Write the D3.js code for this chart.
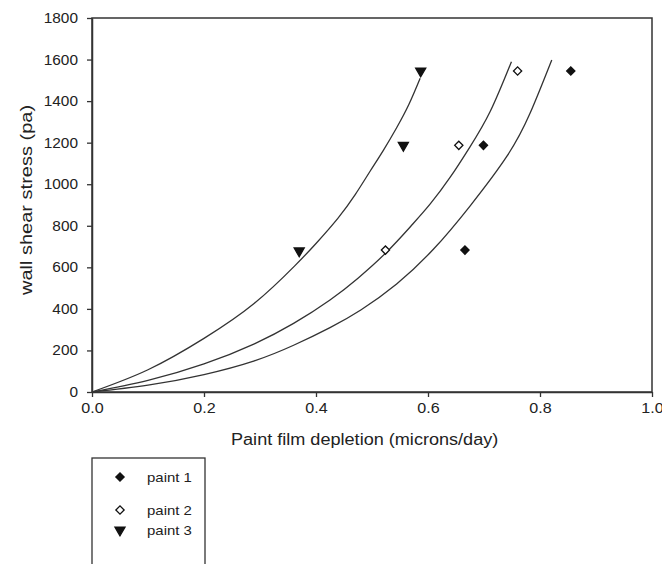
<!DOCTYPE html>
<html>
<head>
  <meta charset="utf-8">
  <script src="https://cdn.jsdelivr.net/npm/d3@7"></script>
  <style>
    body { margin: 0; background: #fff; }
    text { font-family: "Liberation Sans", Arial, sans-serif; fill: #222; }
  </style>
</head>
<body>
<svg id="chart"></svg>
<script>
  var w = 662, h = 564;
  var padLeft = 92, padTop = 18, pw = 560, ph = 374;

  // tick values
  var xTicks = [0, 0.2, 0.4, 0.6, 0.8, 1.0];
  var yTicks = [0, 200, 400, 600, 800, 1000, 1200, 1400, 1600, 1800];

  // measured points
  var paint1X = [0.666, 0.699, 0.855];
  var paint1Y = [683, 1187, 1545];
  var paint2X = [0.524, 0.655, 0.760];
  var paint2Y = [683, 1187, 1545];
  var paint3X = [0.370, 0.556, 0.587];
  var paint3Y = [679, 1187, 1545];

  // fitted curves
  var fit1X = [0, 0.1, 0.2, 0.29, 0.36, 0.425, 0.48, 0.544, 0.61, 0.675, 0.741, 0.782, 0.821];
  var fit1Y = [0, 33, 84, 150, 225, 310, 395, 520, 688, 895, 1135, 1340, 1598];
  var fit2X = [0, 0.1, 0.2, 0.29, 0.36, 0.425, 0.475, 0.526, 0.57, 0.604, 0.64, 0.675, 0.711, 0.749];
  var fit2Y = [0, 56, 135, 232, 330, 443, 548, 673, 800, 905, 1035, 1180, 1350, 1590];
  var fit3X = [0, 0.1, 0.2, 0.29, 0.362, 0.4, 0.439, 0.47, 0.496, 0.52, 0.544, 0.566, 0.586];
  var fit3Y = [0, 107, 258, 427, 607, 715, 836, 950, 1060, 1162, 1272, 1385, 1510];

  var legendNames = ["paint 1", "paint 2", "paint 3"];

  var svg = d3.select("#chart").attr("width", w).attr("height", h);

  var x = d3.scaleLinear().domain([0, 1]).range([padLeft, padLeft + pw]);
  var y = d3.scaleLinear().domain([0, 1800]).range([padTop + ph, padTop]);

  // stretch text a bit horizontally like the scanned figure
  function stretch(sel, k) {
    sel.each(function() {
      var L = this.getComputedTextLength();
      this.setAttribute("textLength", L * k);
      this.setAttribute("lengthAdjust", "spacingAndGlyphs");
    });
  }

  // frame
  svg.append("rect")
    .attr("x", padLeft).attr("y", padTop).attr("width", pw).attr("height", ph)
    .attr("fill", "none").attr("stroke", "#333").attr("stroke-width", 1.5);

  // axes
  var xAxis = d3.axisBottom(x).tickValues(xTicks).tickFormat(d3.format(".1f"))
    .tickSize(5).tickSizeOuter(0);
  var gx = svg.append("g").attr("transform", "translate(0," + (padTop + ph) + ")").call(xAxis);
  gx.select(".domain").attr("stroke", "#333").attr("stroke-width", 1.5);
  gx.selectAll(".tick line").attr("stroke", "#333").attr("stroke-width", 1.3);
  gx.selectAll(".tick text").attr("font-size", 14).attr("dy", "0.71em").attr("y", 11)
    .attr("fill", "#222").attr("font-family", "Liberation Sans, Arial, sans-serif");
  stretch(gx.selectAll(".tick text"), 1.15);

  var yAxis = d3.axisLeft(y).tickValues(yTicks).tickFormat(d3.format("d"))
    .tickSize(5).tickSizeOuter(0);
  var gy = svg.append("g").attr("transform", "translate(" + padLeft + ",0)").call(yAxis);
  gy.select(".domain").attr("stroke", "#333").attr("stroke-width", 1.5);
  gy.selectAll(".tick line").attr("stroke", "#333").attr("stroke-width", 1.3);
  gy.selectAll(".tick text").attr("font-size", 14).attr("x", -14)
    .attr("fill", "#222").attr("font-family", "Liberation Sans, Arial, sans-serif");
  stretch(gy.selectAll(".tick text"), 1.1);

  // axis titles
  var xt = svg.append("text").attr("x", 231).attr("y", 445)
    .attr("font-size", 16).text("Paint film depletion (microns/day)");
  stretch(xt, 1.13);

  var yt = svg.append("text").attr("transform", "translate(32,200) rotate(-90)")
    .attr("text-anchor", "middle").attr("font-size", 16).text("wall shear stress (pa)");
  stretch(yt, 1.25);

  // curves
  var line = d3.line()
    .x(function(d) { return x(d[0]); })
    .y(function(d) { return y(d[1]); })
    .curve(d3.curveNatural);
  [[fit1X, fit1Y], [fit2X, fit2Y], [fit3X, fit3Y]].forEach(function(c) {
    svg.append("path")
      .datum(d3.zip(c[0], c[1]))
      .attr("d", line)
      .attr("fill", "none").attr("stroke", "#333").attr("stroke-width", 1.3);
  });

  // markers
  var diamond = d3.symbol().type(d3.symbolSquare).size(34)();
  var tri = d3.symbol().type(d3.symbolTriangle).size(44)();

  function drawPoints(xs, ys, shape, rot, fill) {
    svg.append("g").selectAll("path").data(d3.zip(xs, ys)).enter().append("path")
      .attr("d", shape)
      .attr("transform", function(d) {
        return "translate(" + x(d[0]) + "," + y(d[1]) + ") rotate(" + rot + ")";
      })
      .attr("fill", fill).attr("stroke", "#111").attr("stroke-width", 1.3);
  }
  drawPoints(paint1X, paint1Y, diamond, 45, "#111");
  drawPoints(paint2X, paint2Y, diamond, 45, "#fff");
  drawPoints(paint3X, paint3Y, tri, 180, "#111");

  // legend
  var lg = svg.append("g");
  lg.append("rect").attr("x", 92).attr("y", 458).attr("width", 113).attr("height", 130)
    .attr("fill", "none").attr("stroke", "#333").attr("stroke-width", 1.3);
  var legRows = [477, 510, 530];
  var legShapes = [[diamond, 45, "#111"], [diamond, 45, "#fff"], [tri, 180, "#111"]];
  legendNames.forEach(function(name, i) {
    lg.append("path").attr("d", legShapes[i][0])
      .attr("transform", "translate(120," + legRows[i] + ") rotate(" + legShapes[i][1] + ")")
      .attr("fill", legShapes[i][2]).attr("stroke", "#111").attr("stroke-width", 1.3);
    var t = lg.append("text").attr("x", 147).attr("y", legRows[i]).attr("dy", "0.35em")
      .attr("font-size", 13).text(name);
    stretch(t, 1.15);
  });
</script>
</body>
</html>
